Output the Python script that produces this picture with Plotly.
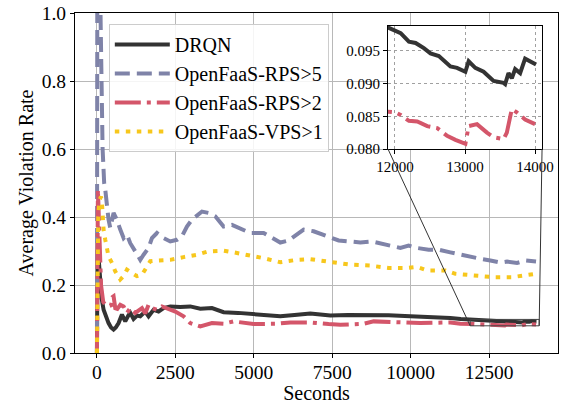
import plotly.graph_objects as go

# ---------------- data ----------------
drqn_t = [0, 20, 60, 100, 150, 212, 300, 370, 450, 530, 600, 690, 797, 850, 902, 1000, 1062,
          1167, 1280, 1380, 1540, 1646, 1805, 1965, 2124, 2337, 2656, 2975, 3294, 3667, 4038,
          4500, 4994, 5400, 5845, 6300, 6802, 7121, 7440, 8000, 8716, 9300, 9991, 10500,
          10948, 11267, 11600, 11905,
          12000, 12081, 12199, 12294, 12412, 12507, 12626, 12791, 12886, 13005, 13052, 13147,
          13265, 13408, 13550, 13573, 13621, 13668, 13716, 13787, 13858, 13929, 14014]
drqn_v = [0.0, 0.33, 0.27, 0.20, 0.16, 0.127, 0.10, 0.088, 0.075, 0.069, 0.075, 0.088, 0.113,
          0.100, 0.093, 0.110, 0.118, 0.100, 0.110, 0.108, 0.122, 0.108, 0.127, 0.122, 0.132,
          0.137, 0.135, 0.137, 0.130, 0.132, 0.120, 0.118, 0.115, 0.112, 0.108, 0.112, 0.116,
          0.113, 0.110, 0.112, 0.113, 0.111, 0.108, 0.106, 0.107, 0.103, 0.100, 0.0985,
          0.0980, 0.0977, 0.0964, 0.0962, 0.0954, 0.0946, 0.0942, 0.0926, 0.0924, 0.0918,
          0.0934, 0.0924, 0.0918, 0.0904, 0.0901, 0.0899, 0.0916, 0.0908, 0.0922, 0.0916,
          0.0938, 0.0934, 0.0929]

rps5_t = [0, 15, 80, 130, 180, 230, 265, 370, 424, 530, 637, 743, 850, 956, 1062, 1221, 1381,
          1487, 1646, 1753, 1913, 2124, 2337, 2550, 2710, 2869, 3029, 3348, 3560, 3773, 4038,
          4305, 4570, 4889, 5313, 5580, 5845, 6110, 6378, 6590, 6908, 7175, 7440, 7706, 8078,
          8397, 8770, 9035, 9354, 9673, 9937, 10205, 10575, 10895, 11267, 11799, 12224,
          12543, 12862, 13075, 13394, 13659, 14000]
rps5_v = [0.0, 1.5, 1.2, 0.8, 0.6, 0.5, 0.48, 0.392, 0.368, 0.412, 0.392, 0.363, 0.338, 0.348,
          0.323, 0.299, 0.274, 0.289, 0.309, 0.338, 0.353, 0.338, 0.328, 0.333, 0.343, 0.372,
          0.392, 0.416, 0.412, 0.402, 0.372, 0.377, 0.365, 0.353, 0.353, 0.338, 0.325, 0.331,
          0.348, 0.363, 0.358, 0.348, 0.341, 0.331, 0.328, 0.325, 0.328, 0.323, 0.314, 0.309,
          0.316, 0.309, 0.304, 0.304, 0.296, 0.284, 0.277, 0.272, 0.266, 0.269, 0.265, 0.272,
          0.269]

rps2_t = [0, 30, 60, 90, 130, 200, 280, 370, 450, 500, 530, 584, 650, 743, 850, 956, 1062,
          1221, 1435, 1540, 1646, 1753, 1913, 2072, 2232, 2497, 2762, 2975, 3294, 3560, 3667,
          4038, 4357, 4994, 5740, 6165, 6802, 7386, 7759, 8503, 8822, 9778, 10310, 11267,
          11586,
          12000, 12081, 12199, 12318, 12460, 12602, 12744, 12863, 13005, 13052, 13171, 13313,
          13408, 13550, 13597, 13668, 13739, 13858, 14000]
rps2_v = [0.0, 0.48, 0.40, 0.28, 0.20, 0.15, 0.14, 0.137, 0.14, 0.165, 0.167, 0.132, 0.130,
          0.142, 0.137, 0.118, 0.132, 0.118, 0.132, 0.116, 0.142, 0.132, 0.127, 0.137, 0.132,
          0.122, 0.108, 0.088, 0.078, 0.083, 0.088, 0.086, 0.093, 0.085, 0.086, 0.090, 0.090,
          0.085, 0.083, 0.086, 0.093, 0.090, 0.088, 0.090, 0.086,
          0.0856, 0.0852, 0.0843, 0.0842, 0.0835, 0.0832, 0.0820, 0.0814, 0.0808, 0.0835,
          0.0838, 0.0825, 0.0818, 0.0815, 0.0825, 0.0861, 0.0856, 0.0845, 0.0838]

vps1_t = [0, 40, 80, 130, 160, 212, 265, 370, 478, 584, 743, 850, 956, 1115, 1275, 1435, 1540,
          1700, 1913, 2337, 2762, 3188, 3560, 4038, 4357, 4783, 5313, 5845, 6378, 6802, 7227,
          7546, 8078, 8716, 9300, 9886, 10205, 10524, 11107, 11427, 12011, 12650, 13235,
          13553, 13872, 14000]
vps1_v = [0.0, 0.40, 0.45, 0.46, 0.44, 0.363, 0.333, 0.284, 0.265, 0.240, 0.216, 0.226, 0.245,
          0.235, 0.226, 0.230, 0.245, 0.270, 0.272, 0.274, 0.282, 0.289, 0.299, 0.301, 0.296,
          0.289, 0.279, 0.267, 0.274, 0.276, 0.270, 0.267, 0.260, 0.257, 0.250, 0.250, 0.253,
          0.243, 0.243, 0.233, 0.227, 0.223, 0.223, 0.226, 0.230, 0.233]

x_ticks = [0, 2500, 5000, 7500, 10000, 12500]
y_ticks = [0.0, 0.2, 0.4, 0.6, 0.8, 1.0]
inset_x_ticks = [12000, 13000, 14000]
inset_y_ticks = [0.080, 0.085, 0.090, 0.095]

# ---------------- style ----------------
FONT = "'Liberation Serif', 'Times New Roman', Times, 'DejaVu Serif', serif"
C_DRQN = "#333333"
C_RPS5 = "#7f83a8"
C_RPS2 = "#d4566a"
C_VPS1 = "#f7c71c"
LW = 4

series = [
    ("DRQN", drqn_t, drqn_v, C_DRQN, "solid"),
    ("OpenFaaS-RPS>5", rps5_t, rps5_v, C_RPS5, "15px,7px"),
    ("OpenFaaS-RPS>2", rps2_t, rps2_v, C_RPS2, "26px,6px,4px,6px"),
    ("OpenFaaS-VPS>1", vps1_t, vps1_v, C_VPS1, "4.5px,6.5px"),
]

fig = go.Figure()
for name, t, v, c, d in series:
    fig.add_trace(go.Scatter(x=t, y=v, mode="lines", name=name,
                             line=dict(color=c, width=LW, dash=d)))

# inset traces (DRQN and RPS>2 only are within range)
for name, t, v, c, d in [series[0], series[2]]:
    pts = [(a, b) for a, b in zip(t, v) if a >= 11500]
    fig.add_trace(go.Scatter(x=[p[0] for p in pts], y=[p[1] for p in pts], mode="lines",
                             showlegend=False, xaxis="x2", yaxis="y2",
                             line=dict(color=c, width=LW, dash=d)))

XR = [-700, 14700]
YR = [0.0, 1.0]
IX_DOM = [0.648, 0.967]
IY_DOM = [0.60, 0.962]
IXR = [11900, 14100]
IYR = [0.080, 0.0988]

axis_common = dict(showline=True, linecolor="black", linewidth=1.2, mirror=True,
                   ticks="outside", ticklen=4, tickcolor="black", zeroline=False,
                   automargin=False)

fig.update_layout(
    width=571, height=404,
    margin=dict(l=75, r=13, t=13, b=51),
    paper_bgcolor="white", plot_bgcolor="white",
    font=dict(family=FONT, size=20, color="black"),
    xaxis=dict(range=XR, tickvals=x_ticks, tickformat="d", showgrid=True,
               gridcolor="#b8b8b8", gridwidth=1, ticklabelstandoff=-3,
               title=dict(text="Seconds", standoff=1, font=dict(family=FONT, size=20)),
               domain=[0, 1], tickfont=dict(family=FONT, size=19.5), **axis_common),
    yaxis=dict(range=YR, tickvals=y_ticks, tickformat=".1f", showgrid=True,
               gridcolor="#b8b8b8", gridwidth=1,
               title=dict(text="Average Violation Rate", standoff=2,
                          font=dict(family=FONT, size=20)),
               domain=[0, 1], tickfont=dict(family=FONT, size=19.5), **axis_common),
    xaxis2=dict(domain=IX_DOM, anchor="y2", range=IXR, tickvals=inset_x_ticks,
                tickformat="d", showgrid=True, gridcolor="#a0a0a0", gridwidth=0.8,
                griddash="dot", tickfont=dict(family=FONT, size=15), **axis_common),
    yaxis2=dict(domain=IY_DOM, anchor="x2", range=IYR, tickvals=inset_y_ticks,
                tickformat=".3f", showgrid=True, gridcolor="#a0a0a0", gridwidth=0.8,
                griddash="dot", tickfont=dict(family=FONT, size=15), **axis_common),
    legend=dict(x=0.07, y=0.968, xanchor="left", yanchor="top",
                bgcolor="rgba(255,255,255,0.85)", bordercolor="#cccccc", borderwidth=1,
                font=dict(family=FONT, size=20), itemwidth=55, tracegroupgap=0),
)

# zoom rectangle and connectors in main-axis data coordinates
def to_main_x(p):
    return XR[0] + p * (XR[1] - XR[0])

def to_main_y(p):
    return YR[0] + p * (YR[1] - YR[0])

fig.add_shape(type="rect", xref="x", yref="y", x0=IXR[0], x1=IXR[1], y0=IYR[0], y1=IYR[1],
              line=dict(color="#444444", width=1))
fig.add_shape(type="line", xref="x", yref="y", x0=to_main_x(IX_DOM[0]), y0=to_main_y(IY_DOM[0]),
              x1=IXR[0], y1=IYR[0], line=dict(color="#333333", width=1))
fig.add_shape(type="line", xref="x", yref="y", x0=to_main_x(IX_DOM[1]), y0=to_main_y(IY_DOM[0]),
              x1=IXR[1], y1=IYR[0], line=dict(color="#333333", width=1))

fig.write_html("out.html", config={"displayModeBar": False},
               post_script="document.body.style.margin='0';document.body.style.padding='0';")
